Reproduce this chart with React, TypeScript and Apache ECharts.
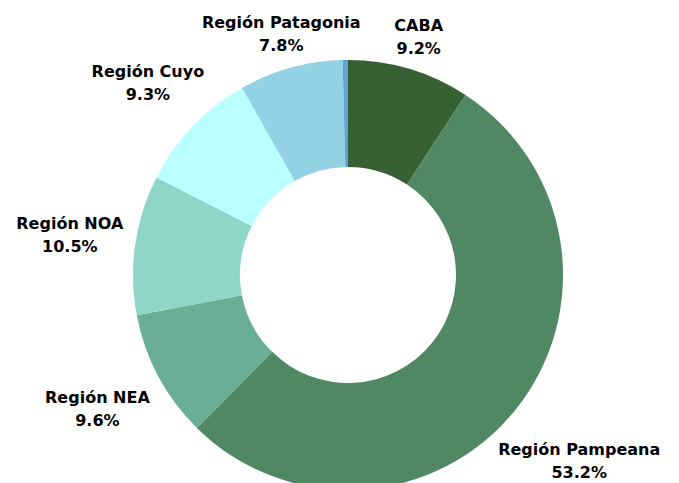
import React, { useEffect, useRef } from "react";
import * as echarts from "echarts";

const categories = ["CABA", "Región Pampeana", "Región NEA", "Región NOA", "Región Cuyo", "Región Patagonia", "Sin dato"];
const values = [9.2, 53.2, 9.6, 10.5, 9.3, 7.8, 0.4];
const colors = ["#376134", "#4F8862", "#6AAE95", "#8FD6C9", "#B9FFFF", "#93D2E4", "#5FA3D8"];
const showLabel = [true, true, true, true, true, true, false];
const labelRadius = [248, 297, 284, 281, 277, 250, 250];

const CX = 348;
const CY = 275;

export default function App() {
  const ref = useRef<HTMLDivElement>(null);
  useEffect(() => {
    document.body.style.margin = "0";
    const chart = echarts.init(ref.current!, null, { renderer: "svg" });
    const total = values.reduce((a, b) => a + b, 0);
    const mids: number[] = [];
    let acc = 0;
    values.forEach((v) => {
      mids.push(((acc + v / 2) / total) * Math.PI * 2);
      acc += v;
    });
    chart.setOption({
      animation: false,
      backgroundColor: "#ffffff",
      series: [
        {
          type: "pie",
          center: [CX, CY],
          radius: [108, 215],
          startAngle: 90,
          clockwise: true,
          avoidLabelOverlap: false,
          labelLine: { show: false },
          label: {
            show: true,
            position: "outside",
            formatter: (p: any) => `${p.name}\n${p.value.toFixed(1)}%`,
            fontFamily: "DejaVu Sans",
            fontWeight: "bold",
            fontSize: 16,
            lineHeight: 23,
            color: "#000000",
            align: "center",
          },
          labelLayout: (params: any) => {
            const i = params.dataIndex;
            const a = mids[i];
            const r = labelRadius[i];
            return {
              x: CX + r * Math.sin(a),
              y: CY - r * Math.cos(a),
              align: "center",
              verticalAlign: "middle",
            };
          },
          emphasis: { disabled: true },
          data: categories.map((c, i) => ({
            name: c,
            value: values[i],
            itemStyle: { color: colors[i] },
            label: { show: showLabel[i] },
          })),
        },
      ],
    });
    return () => chart.dispose();
  }, []);
  return <div ref={ref} style={{ width: 679, height: 483 }} />;
}
